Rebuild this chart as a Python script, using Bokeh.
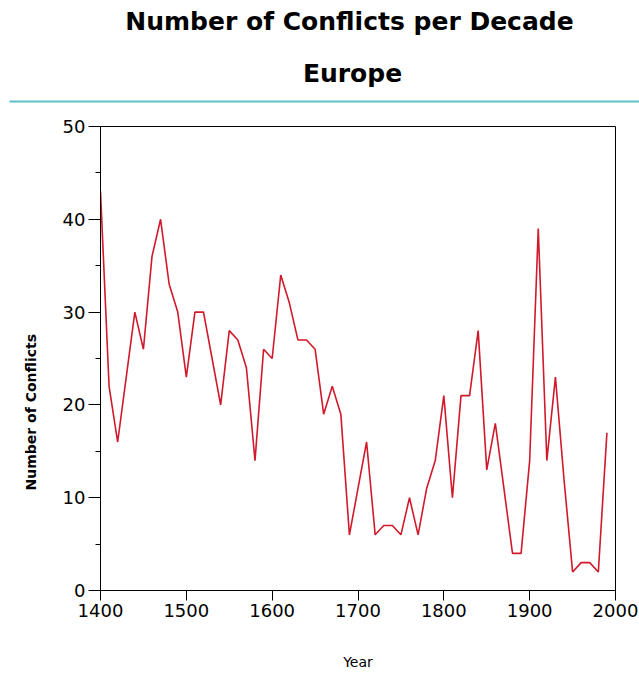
from bokeh.plotting import figure
from bokeh.models import Range1d, FixedTicker, Title
from bokeh.layouts import column
from bokeh.core.properties import value
from bokeh.embed import file_html
from bokeh.resources import INLINE

# ---- data ----
years = [1400, 1410, 1420, 1430, 1440, 1450, 1460, 1470, 1480, 1490,
         1500, 1510, 1520, 1530, 1540, 1550, 1560, 1570, 1580, 1590,
         1600, 1610, 1620, 1630, 1640, 1650, 1660, 1670, 1680, 1690,
         1700, 1710, 1720, 1730, 1740, 1750, 1760, 1770, 1780, 1790,
         1800, 1810, 1820, 1830, 1840, 1850, 1860, 1870, 1880, 1890,
         1900, 1910, 1920, 1930, 1940, 1950, 1960, 1970, 1980, 1990]
conflicts = [43, 22, 16, 23, 30, 26, 36, 40, 33, 30,
             23, 30, 30, 25, 20, 28, 27, 24, 14, 26,
             25, 34, 31, 27, 27, 26, 19, 22, 19, 6,
             11, 16, 6, 7, 7, 6, 10, 6, 11, 14,
             21, 10, 21, 21, 28, 13, 18, 11, 4, 4,
             14, 39, 14, 23, 12, 2, 3, 3, 2, 17]
x_ticks = [1400, 1500, 1600, 1700, 1800, 1900, 2000]
y_ticks = [0, 10, 20, 30, 40, 50]
y_minor = [5, 15, 25, 35, 45]
title_text = "Number of Conflicts per Decade"
subtitle_text = "Europe"
x_label = "Year"
y_label = "Number of Conflicts"

FONT = "DejaVu Sans"
W = 639
HEAD_H = 110

# ---- header (titles + rule), pixel-like coordinates ----
h = figure(width=W, height=HEAD_H, output_backend="svg", toolbar_location=None,
           x_range=Range1d(0, W), y_range=Range1d(0, HEAD_H),
           min_border=0, min_border_left=0, min_border_right=0,
           min_border_top=0, min_border_bottom=0)
h.frame_align = False
h.axis.visible = False
h.grid.visible = False
h.outline_line_color = None
h.background_fill_color = "white"
h.border_fill_color = "white"
h.text(x=[349], y=[HEAD_H - 21], text=[title_text], text_font=value(FONT),
       text_font_style="bold", text_font_size="25px", text_align="center",
       text_baseline="alphabetic", text_color="black")
h.text(x=[352], y=[HEAD_H - 73], text=[subtitle_text], text_font=value(FONT),
       text_font_style="bold", text_font_size="25px", text_align="center",
       text_baseline="alphabetic", text_color="black")
h.segment(x0=[9], y0=[HEAD_H - 101], x1=[W], y1=[HEAD_H - 101],
          line_color="#5cc0c6", line_width=2)

# ---- main chart ----
p = figure(width=W, height=676 - HEAD_H, output_backend="svg", toolbar_location=None,
           x_range=Range1d(1400, 2000), y_range=Range1d(0, 50),
           min_border_left=99, min_border_right=24, min_border_top=16,
           min_border_bottom=86)
p.frame_align = False
p.background_fill_color = "white"
p.border_fill_color = "white"
p.grid.visible = False
p.outline_line_color = "black"
p.outline_line_width = 1

p.line(years, conflicts, line_color="#d0192b", line_width=1.6)

xa = p.xaxis[0]
xa.ticker = FixedTicker(ticks=x_ticks)
xa.major_tick_out = 10
xa.major_tick_in = 0
xa.minor_tick_out = 0
xa.axis_line_color = "black"
xa.major_tick_line_color = "black"
xa.major_label_text_font = FONT
xa.major_label_text_font_size = "18px"
xa.major_label_text_color = "black"
xa.major_label_standoff = 3
xa.axis_label = x_label
xa.axis_label_text_font = FONT
xa.axis_label_text_font_style = "normal"
xa.axis_label_text_font_size = "14px"
xa.axis_label_text_color = "black"
xa.axis_label_standoff = 34

ya = p.yaxis[0]
ya.ticker = FixedTicker(ticks=y_ticks, minor_ticks=y_minor)
ya.major_tick_out = 12
ya.major_tick_in = 0
ya.minor_tick_out = 5
ya.minor_tick_in = 0
ya.axis_line_color = "black"
ya.major_tick_line_color = "black"
ya.minor_tick_line_color = "black"
ya.major_label_text_font = FONT
ya.major_label_text_font_size = "18px"
ya.major_label_text_color = "black"
ya.major_label_standoff = 3

p.add_layout(Title(text=y_label, align="left", offset=100, standoff=41,
                   text_font=FONT, text_font_style="bold", text_font_size="14px",
                   text_color="black"), "left")

layout = column(h, p, spacing=0)
open("out.html", "w").write(file_html(layout, INLINE))
